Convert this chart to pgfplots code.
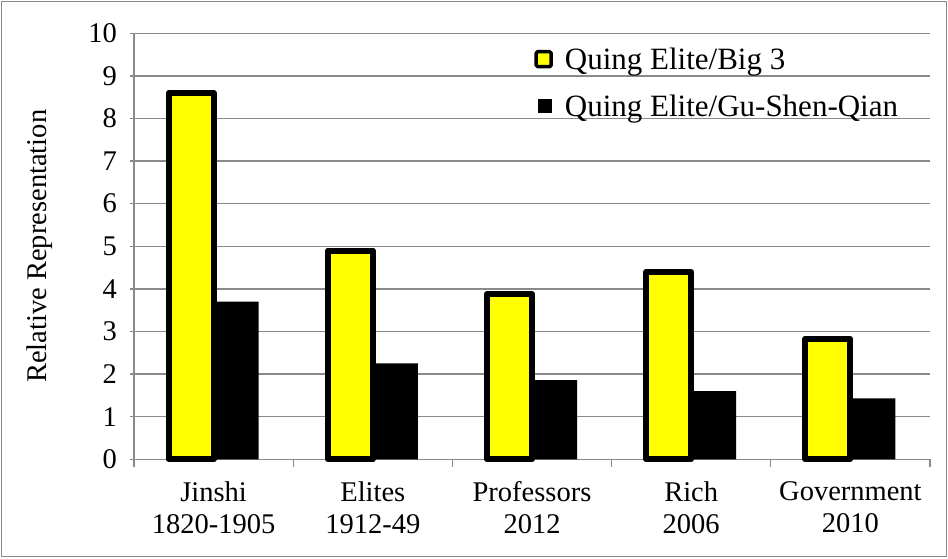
\documentclass[border=0pt]{standalone}
\usepackage{pgfplots}
\pgfplotsset{compat=1.18}
\usepackage{fontspec}
\setmainfont{Liberation Serif}
\definecolor{gridgray}{HTML}{8A8A8A}
\definecolor{baryellow}{HTML}{FFFF00}
\begin{document}
\begin{tikzpicture}
\begin{axis}[
  at={(0,0)}, anchor=south west,
  scale only axis, width=796pt, height=426pt,
  font=\fontsize{28.5}{32}\selectfont,
  /pgf/number format/assume math mode=true,
  ymin=0, ymax=10, ytick={0,1,...,10},
  xmin=-0.5, xmax=4.5,
  xtick={0,1,2,3,4},
  xticklabels={{Jinshi\\1820-1905},{Elites\\1912-49},{Professors\\2012},{Rich\\2006},{Government\\2010}},
  xticklabel style={align=center, yshift=-12pt},
  major x tick style={draw=none},
  minor xtick={-0.5,0.5,1.5,2.5,3.5,4.5},
  minor x tick style={draw=gridgray, line width=1.3pt},
  major y tick style={draw=gridgray, line width=1.3pt},
  tick align=outside, major tick length=7pt, minor tick length=8pt,
  yticklabel style={xshift=-10pt},
  axis lines=left, axis line style={draw=gridgray, line width=1.3pt, -},
  ymajorgrids, grid style={draw=gridgray, line width=1.3pt},
  ylabel={Relative Representation},
  ylabel style={at={(axis description cs:-0.118,0.5)}, anchor=center},
  ybar=0pt, bar width=45pt,
  clip=false,
  legend style={draw=none, fill=none, at={(0.499,0.975)}, anchor=north west,
    row sep=20pt, column sep=10pt, font=\fontsize{31}{34}\selectfont},
  legend cell align=left,
]
\addplot[fill=baryellow, draw=black, line width=6pt, line join=round,
  legend image code/.code={\filldraw[fill=baryellow, draw=black, line width=3.5pt, rounded corners=1.5pt] (0pt,-7pt) rectangle (15pt,8pt);}]
  coordinates {(0,8.6) (1,4.9) (2,3.88) (3,4.4) (4,2.83)};
\addlegendentry{Quing Elite/Big 3}
\addplot[fill=black, draw=none,
  legend image code/.code={\fill[black] (2pt,-6pt) rectangle (16pt,8pt);}]
  coordinates {(0,3.7) (1,2.25) (2,1.86) (3,1.6) (4,1.43)};
\addlegendentry{Quing Elite/Gu-Shen-Qian}
\end{axis}
\draw[gridgray, line width=1.2pt] (-132.5pt,-97pt) rectangle (812.5pt,457.5pt);
\pgfresetboundingbox
\useasboundingbox (-134pt,-98.7pt) rectangle (814pt,459.3pt);
\end{tikzpicture}
\end{document}
